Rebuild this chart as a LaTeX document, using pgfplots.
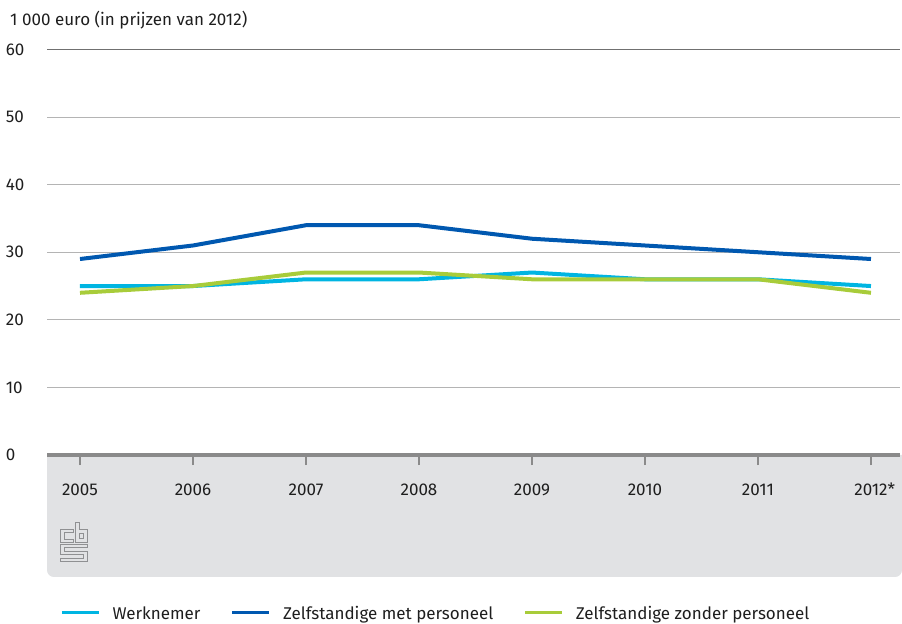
\documentclass[border=0pt]{standalone}
\usepackage{fontspec}
\setmainfont{Fira Sans}
\usepackage{pgfplots}
\pgfplotsset{compat=1.18}

\definecolor{werk}{HTML}{00B5E2}
\definecolor{zmp}{HTML}{0058B0}
\definecolor{zzp}{HTML}{A8CC3A}
\definecolor{band}{HTML}{E1E2E4}
\definecolor{gridc}{HTML}{B4B4B4}
\definecolor{topgrid}{HTML}{707070}
\definecolor{axisc}{HTML}{8A8A8A}
\definecolor{logoc}{HTML}{8F9092}
\definecolor{txt}{HTML}{1E1E1E}

\begin{document}
\fontsize{17bp}{20bp}\selectfont
\begin{tikzpicture}
\useasboundingbox (0,0) rectangle (902bp,624bp);

% grey band under the x axis
\begin{scope}[x=1bp,y=1bp]
  \fill[band] (47,169) [rounded corners=7] -- (47,47) -- (902,47) [sharp corners] -- (902,169) -- cycle;
\end{scope}

% cbs logo (outline)
\begin{scope}[shift={(60bp,101bp)}, x=1bp, y=-1bp, draw=logoc, line width=1bp]
  \draw (15,0) -- (19,0) -- (19,7) -- (27,7) -- (27,20) -- (15,20) -- cycle;
  \draw (19,11) rectangle (23,16);
  \draw (0,7) -- (13,7) -- (13,10) -- (4,10) -- (4,17) -- (13,17) -- (13,20) -- (0,20) -- cycle;
  \draw (0,22) -- (27,22) -- (27,25) -- (4,25) -- (4,29) -- (27,29) -- (27,39)
        -- (0,39) -- (0,36) -- (23,36) -- (23,32) -- (0,32) -- cycle;
\end{scope}

\node[anchor=base west, inner sep=0, text=txt] at (10bp,598bp) {1 000 euro (in prijzen van 2012)};

\begin{axis}[
  at={(47bp,169bp)}, anchor=south west,
  scale only axis, width=853bp, height=405.5bp,
  xmin=2004.708, xmax=2012.257, ymin=0, ymax=60,
  clip=false,
  axis x line*=bottom, axis y line*=left,
  y axis line style={draw=none},
  x axis line style={line width=3.3bp, axisc, -},
  xtick={2005,2006,2007,2008,2009,2010,2011,2012},
  xticklabels={2005,2006,2007,2008,2009,2010,2011,2012\rlap{*}},
  ytick={0,10,20,30,40,50,60},
  ytick style={draw=none},
  xtick style={axisc, line width=1.3bp},
  major tick length=10bp, tick align=outside,
  ymajorgrids, grid style={gridc, line width=0.9bp},
  /pgf/number format/assume math mode=true,
  ticklabel style={font=\fontsize{17bp}{20bp}\selectfont, text=txt},
  xticklabel style={anchor=base, yshift=-30bp},
  yticklabel style={anchor=west, xshift=-37bp},
  legend columns=3,
  legend style={at={(0.01524,-0.392)}, anchor=west, draw=none, fill=none,
    inner sep=0pt, outer sep=0pt,
    nodes={inner sep=0pt, text=txt, font=\fontsize{17bp}{20bp}\selectfont},
    /tikz/every odd column/.append style={column sep=12bp},
    /tikz/every even column/.append style={column sep=30bp}},
  legend image code/.code={\draw[#1, line width=3.5bp] (0bp,1.5bp) -- (37bp,1.5bp);},
]
\draw[topgrid, line width=0.9bp] (axis cs:2004.708,60) -- (axis cs:2012.257,60);

\addplot[werk, line width=4bp] coordinates {
  (2005,25) (2006,25) (2007,26) (2008,26) (2009,27) (2010,26) (2011,26) (2012,25)};
\addlegendentry{Werknemer}
\addplot[zmp, line width=4bp] coordinates {
  (2005,29) (2006,31) (2007,34) (2008,34) (2009,32) (2010,31) (2011,30) (2012,29)};
\addlegendentry{Zelfstandige met personeel}
\addplot[zzp, line width=4bp] coordinates {
  (2005,24) (2006,25) (2007,27) (2008,27) (2009,26) (2010,26) (2011,26) (2012,24)};
\addlegendentry{Zelfstandige zonder personeel}
\end{axis}
\end{tikzpicture}
\end{document}
